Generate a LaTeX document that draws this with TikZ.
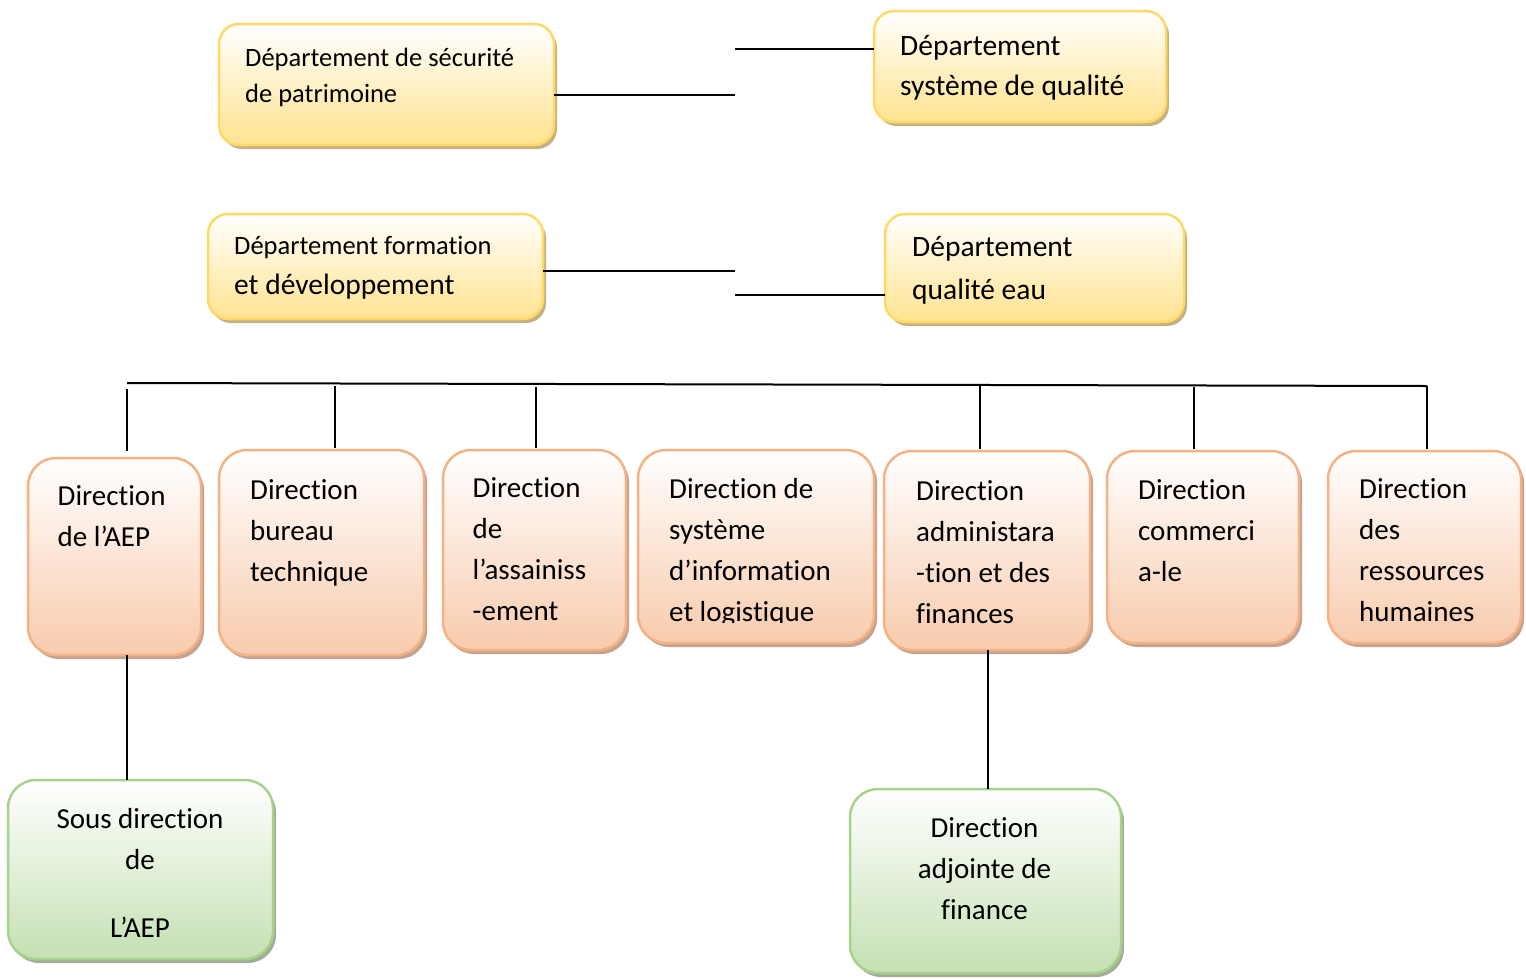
\documentclass[tikz,border=0pt]{standalone}
\usepackage{fontspec}
\setmainfont{Carlito}[Ligatures=NoCommon]
\usetikzlibrary{shadows,calc}
\definecolor{ybord}{HTML}{FFD966}
\definecolor{ybot}{HTML}{FFE38F}
\definecolor{obord}{HTML}{F4B183}
\definecolor{obot}{HTML}{F8CBAD}
\definecolor{gbord}{HTML}{A9D18E}
\definecolor{gbot}{HTML}{C5E0B3}
\definecolor{yshad}{HTML}{C2B184}
\definecolor{oshad}{HTML}{C4A391}
\definecolor{gshad}{HTML}{A3AE9A}
\tikzset{
  box/.style={rectangle, line width=2.5pt, inner sep=0pt, outer sep=0pt},
  ybox/.style={box, draw=ybord, top color=white, bottom color=ybot, rounded corners=20pt,
    drop shadow={shadow xshift=3pt, shadow yshift=-4pt, fill=yshad, opacity=1}},
  obox/.style={box, draw=obord, top color=white, bottom color=obot, rounded corners=28pt,
    drop shadow={shadow xshift=3pt, shadow yshift=-4pt, fill=oshad, opacity=1}},
  gbox/.style={box, draw=gbord, top color=white, bottom color=gbot, rounded corners=28pt,
    drop shadow={shadow xshift=3pt, shadow yshift=-4pt, fill=gshad, opacity=1}},
  txt/.style={inner sep=0pt, align=left, anchor=base west, font=\fontsize{29}{41}\selectfont},
  gtxt/.style={inner sep=0pt, align=center, anchor=base, font=\fontsize{29}{41}\selectfont},
  conn/.style={line width=2pt, black},
}
\newcommand\placebox[6]{\node[#1, minimum width={#4-#2}, minimum height={#5-#3}] (#6) at ({(#2+#4)/2},{(#3+#5)/2}) {};}
\begin{document}
\begin{tikzpicture}[x=1pt, y=-1pt]
\useasboundingbox (0,0) rectangle (1526,978);

% connector end points
\coordinate (c1) at (735,95);
\coordinate (c2) at (735,49);
\coordinate (c3) at (735,271);
\coordinate (c4) at (735,295);
\coordinate (busL) at (127,383);
\coordinate (busR) at (1427,386);
\coordinate (v1) at (127,389);
\coordinate (v2) at (334.5,386);
\coordinate (v3) at (535.5,387);
\coordinate (v5) at (980,386);
\coordinate (v6) at (1194,387);
\coordinate (v7) at (1427,386);
\coordinate (d1) at (127,0);
\coordinate (d5) at (988,0);

% boxes
\placebox{ybox}{219}{24}{554}{145}{Y1}
\placebox{ybox}{874}{11}{1166}{122}{Y2}
\placebox{ybox}{208}{214}{543}{319}{Y3}
\placebox{ybox}{885}{214}{1184}{322}{Y4}
\placebox{obox}{28}{458}{201}{655}{O1}
\placebox{obox}{219}{450}{424}{655}{O2}
\placebox{obox}{443}{450}{626}{650}{O3}
\placebox{obox}{638}{450}{874}{643}{O4}
\placebox{obox}{884}{451}{1090}{650}{O5}
\placebox{obox}{1107}{451}{1299}{643}{O6}
\placebox{obox}{1328}{451}{1521}{643}{O7}
\placebox{gbox}{8}{780}{273}{959}{G1}
\placebox{gbox}{850}{789}{1121}{973}{G2}

\draw[conn] (Y1.east |- c1) -- (c1);
\draw[conn] (c2) -- (c2 -| Y2.west);
\draw[conn] (Y3.east |- c3) -- (c3);
\draw[conn] (c4) -- (c4 -| Y4.west);
\draw[conn] (busL) -- (busR);
\draw[conn, shorten >=7pt] (v1) -- (v1 |- O1.north);
\draw[conn, shorten >=2pt] (v2) -- (v2 |- O2.north);
\draw[conn, shorten >=2pt] (v3) -- (v3 |- O3.north);
\draw[conn, shorten >=2pt] (v5) -- (v5 |- O5.north);
\draw[conn, shorten >=2pt] (v6) -- (v6 |- O6.north);
\draw[conn, shorten >=2pt] (v7) -- (v7 |- O7.north);
\draw[conn] (d1 |- O1.south) -- (d1 |- G1.north);
\draw[conn] (d5 |- O5.south) -- (d5 |- G2.north);

% texts (anchor = baseline of the last line)
\node[txt, font=\fontsize{26.5}{36}\selectfont] (Y1t) at (245,102) {Département de sécurité\\de patrimoine};
\node[txt, font=\fontsize{29.5}{40}\selectfont] (Y2t) at (900,95) {Département\\système de qualité};
\node[txt, font=\fontsize{29.5}{40}\selectfont] (Y3t) at (234,294) {{\fontsize{26.5}{40}\selectfont Département formation}\\et développement};
\node[txt, font=\fontsize{29.5}{43}\selectfont] (Y4t) at (912,299) {Département\\qualité eau};

\node[txt] (O1t) at (57.5,546) {Direction\\de l’AEP};
\node[txt] (O2t) at (250,581) {Direction\\bureau\\technique};
\node[txt] (O3t) at (472.5,620) {Direction\\de\\l’assainiss\\-ement};
\begin{scope}
  \clip (600,440) rectangle (900,622.5);
  \node[txt] (O4t) at (669,621) {Direction de\\système\\d’information\\et logistique};
\end{scope}
\node[txt] (O5t) at (916,623) {Direction\\administara\\-tion et des\\finances};
\node[txt] (O6t) at (1138,581) {Direction\\commerci\\a-le};
\node[txt] (O7t) at (1359,621) {Direction\\des\\ressources\\humaines};

\node[gtxt] (G1t) at (140,937) {Sous direction\\de\\[27pt]L’AEP};
\node[gtxt] (G2t) at (984.5,919) {Direction\\adjointe de\\finance};
\end{tikzpicture}
\end{document}
